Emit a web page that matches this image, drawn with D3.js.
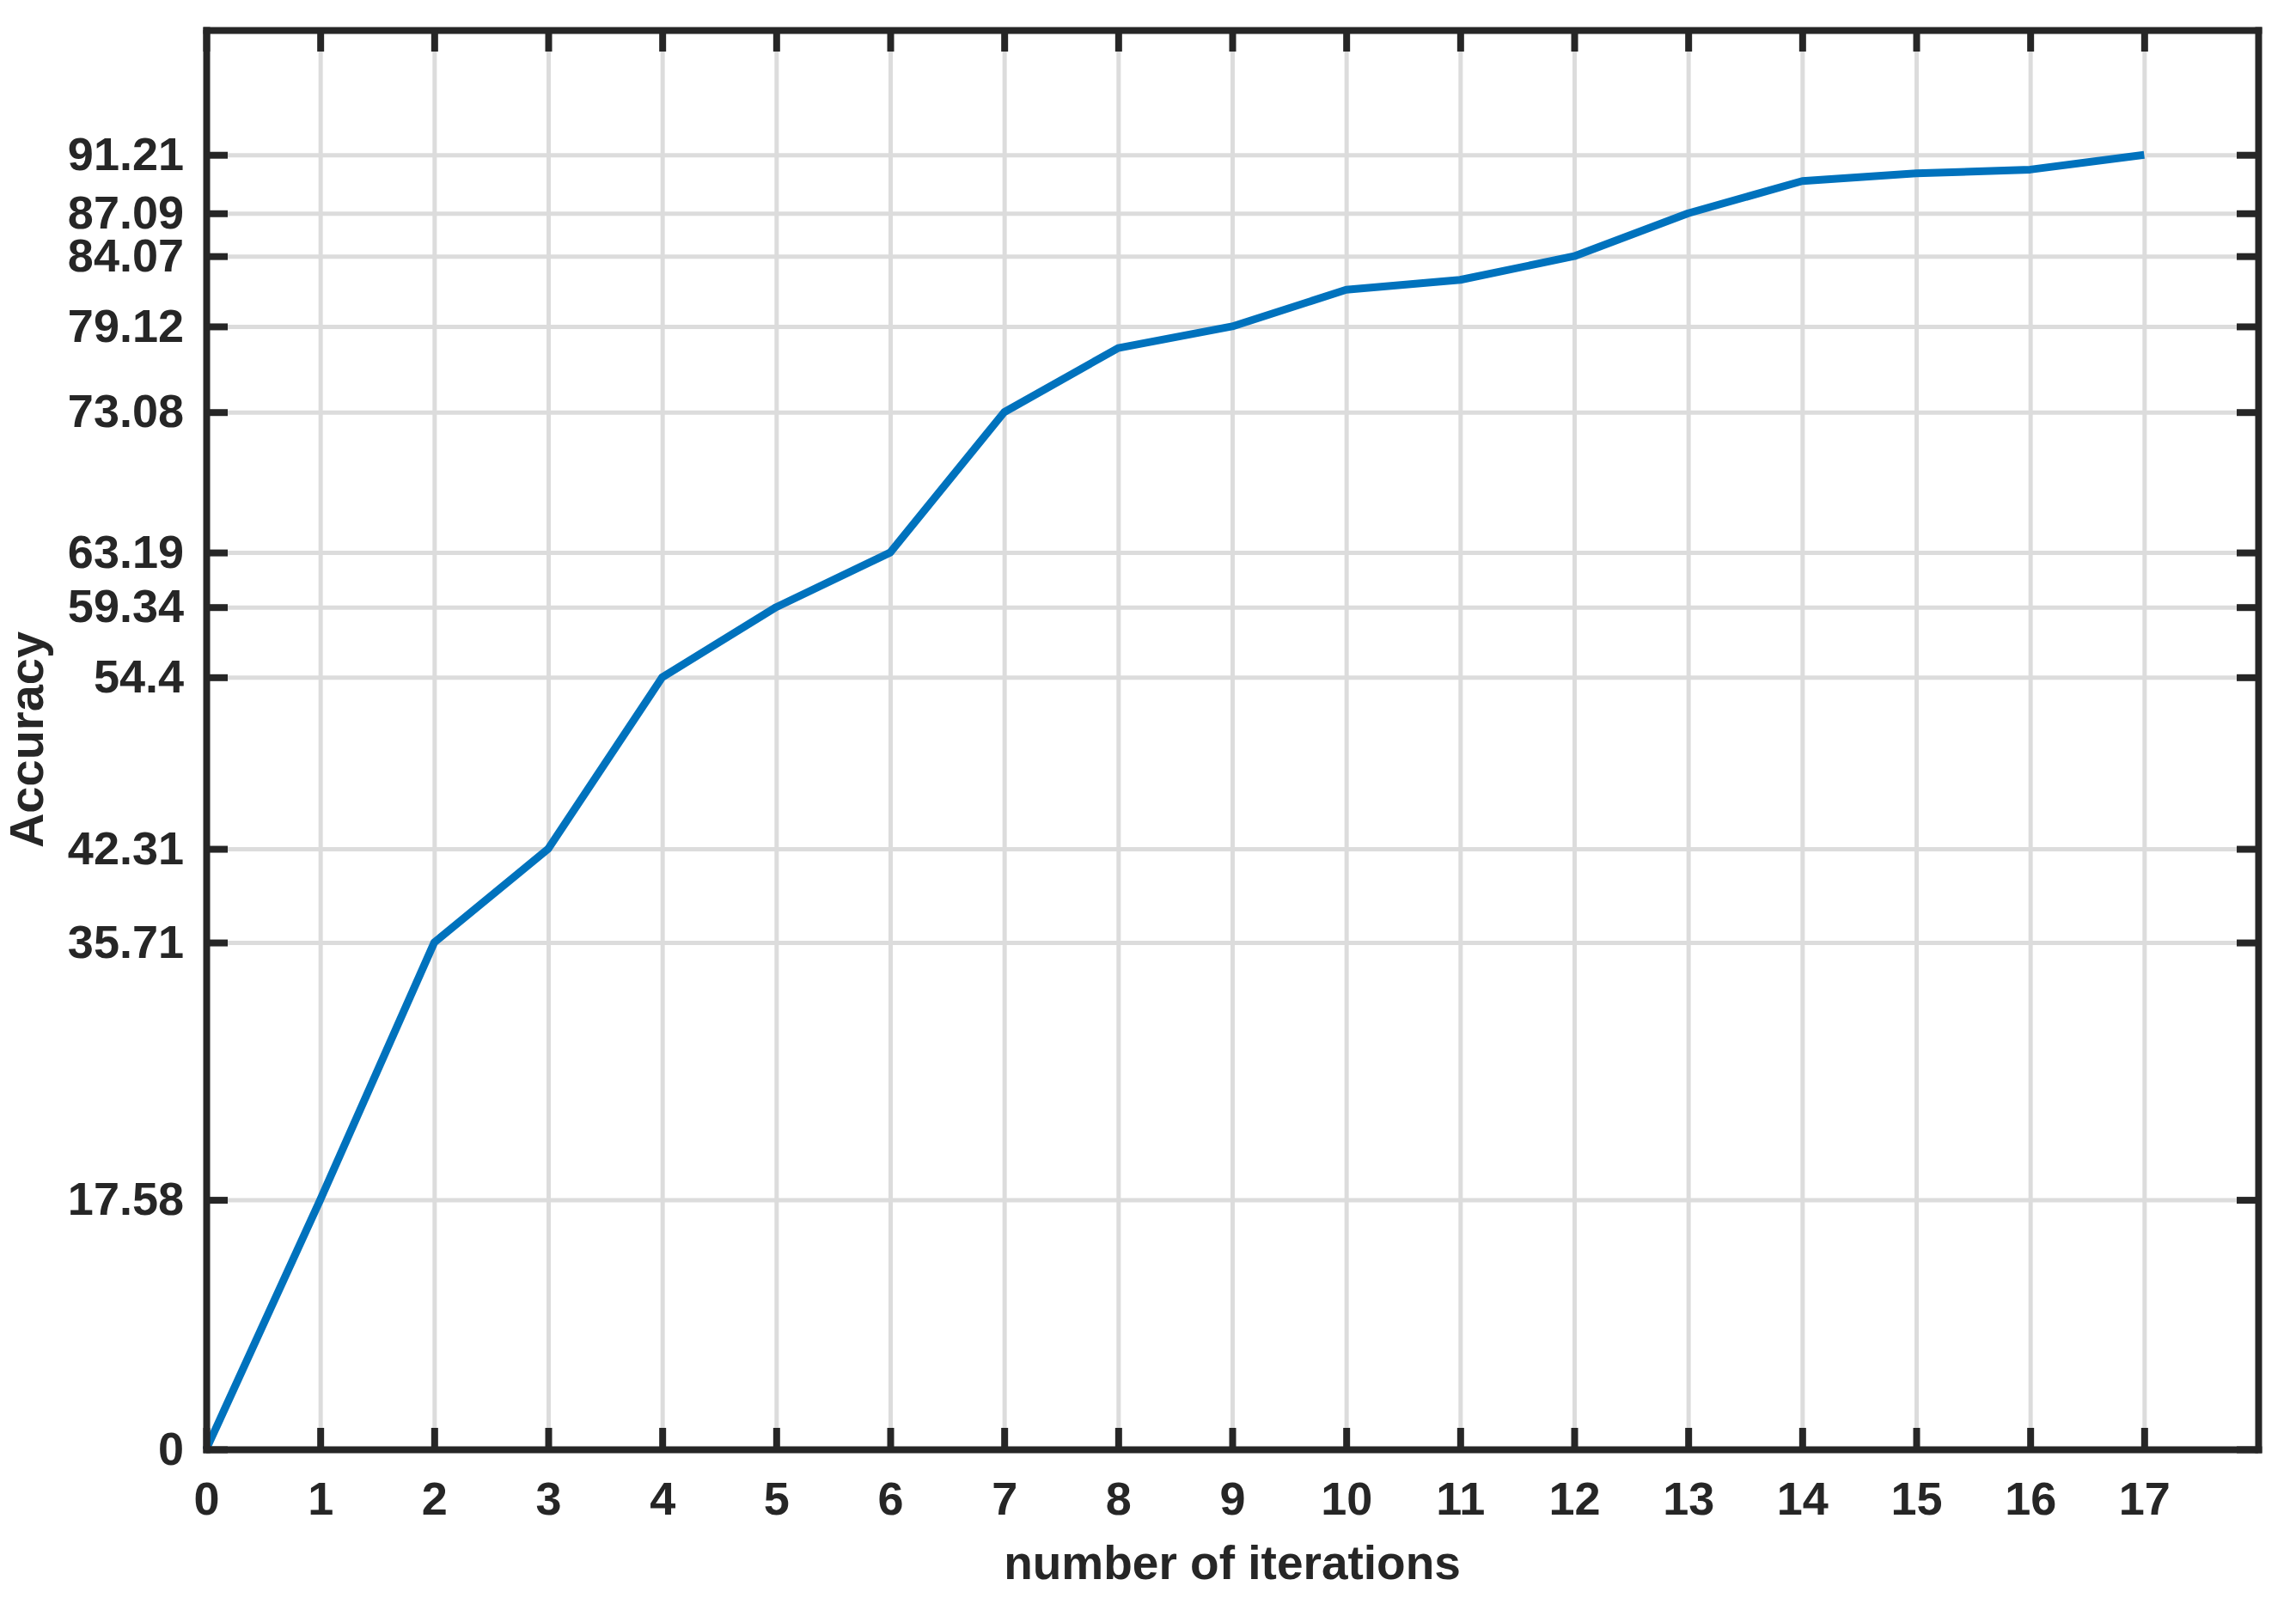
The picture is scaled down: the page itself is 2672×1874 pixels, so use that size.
<!DOCTYPE html>
<html>
<head>
<meta charset="utf-8">
<script src="https://cdn.jsdelivr.net/npm/d3@7"></script>
<style>
  body { margin: 0; background: #fff; }
  text { font-family: 'Liberation Sans', Arial, sans-serif; font-weight: bold; fill: #262626; }
</style>
</head>
<body>
<svg id="chart" width="2672" height="1874"></svg>
<script>
// iterations and accuracy
const iterations = [0, 1, 2, 3, 4, 5, 6, 7, 8, 9, 10, 11, 12, 13, 14, 15, 16, 17];
const accuracy = [0, 17.58, 35.71, 42.31, 54.4, 59.34, 63.19, 73.08, 77.6, 79.12, 81.7, 82.4, 84.07, 87.09, 89.36, 89.9, 90.17, 91.21];
const xTicks = [0, 1, 2, 3, 4, 5, 6, 7, 8, 9, 10, 11, 12, 13, 14, 15, 16, 17];
const yTicks = [0, 17.58, 35.71, 42.31, 54.4, 59.34, 63.19, 73.08, 79.12, 84.07, 87.09, 91.21];

const svg = d3.select('#chart');
svg.append('rect').attr('width', 2672).attr('height', 1874).attr('fill', '#fff');

const plotLeft = 240, plotRight = 2628, plotTop = 35, plotBottom = 1687;
const x = d3.scaleLinear().domain([0, 18]).range([plotLeft, plotRight]);
const y = d3.scaleLinear().domain([0, 100]).range([plotBottom, plotTop]);

const axisColor = '#262626';

// grid
const gx = svg.append('g')
  .attr('transform', `translate(0,${plotBottom})`)
  .call(d3.axisBottom(x).tickValues(xTicks).tickSize(-(plotBottom - plotTop)).tickFormat(''));
const gy = svg.append('g')
  .attr('transform', `translate(${plotLeft},0)`)
  .call(d3.axisLeft(y).tickValues(yTicks).tickSize(-(plotRight - plotLeft)).tickFormat(''));
[gx, gy].forEach((g) => {
  g.select('.domain').remove();
  g.selectAll('.tick line').attr('stroke', '#dcdcdc').attr('stroke-width', 5);
});

// data line
const line = d3.line()
  .x((d, i) => x(iterations[i]))
  .y(d => y(d));
svg.append('path')
  .datum(accuracy)
  .attr('d', line)
  .attr('fill', 'none')
  .attr('stroke', '#0072BD')
  .attr('stroke-width', 9)
  .attr('stroke-linejoin', 'round');

// axes (ticks pointing inward, box all around)
const tickLen = 25;
const bottomAxis = svg.append('g')
  .attr('transform', `translate(0,${plotBottom})`)
  .call(d3.axisBottom(x).tickValues(xTicks).tickSize(-tickLen).tickSizeOuter(0).tickPadding(38));
const topAxis = svg.append('g')
  .attr('transform', `translate(0,${plotTop})`)
  .call(d3.axisTop(x).tickValues(xTicks).tickSize(-tickLen).tickSizeOuter(0).tickFormat(''));
const leftAxis = svg.append('g')
  .attr('transform', `translate(${plotLeft},0)`)
  .call(d3.axisLeft(y).tickValues(yTicks).tickSize(-tickLen).tickSizeOuter(0).tickPadding(26)
    .tickFormat(d => String(d)));
const rightAxis = svg.append('g')
  .attr('transform', `translate(${plotRight},0)`)
  .call(d3.axisRight(y).tickValues(yTicks).tickSize(-tickLen).tickSizeOuter(0).tickFormat(''));

[bottomAxis, topAxis, leftAxis, rightAxis].forEach((g) => {
  g.select('.domain').attr('stroke', axisColor).attr('stroke-width', 8).attr('stroke-linecap', 'square');
  g.selectAll('.tick line').attr('stroke', axisColor).attr('stroke-width', 8);
  g.selectAll('.tick text')
    .style('font-family', "'Liberation Sans', Arial, sans-serif")
    .style('font-weight', 'bold')
    .attr('font-size', 54)
    .attr('fill', axisColor);
});

// axis titles
svg.append('text')
  .attr('x', (plotLeft + plotRight) / 2)
  .attr('y', 1838)
  .attr('text-anchor', 'middle')
  .attr('font-size', 55)
  .text('number of iterations');

svg.append('text')
  .attr('transform', `translate(50,${(plotTop + plotBottom) / 2}) rotate(-90)`)
  .attr('text-anchor', 'middle')
  .attr('font-size', 56)
  .text('Accuracy');
</script>
</body>
</html>
